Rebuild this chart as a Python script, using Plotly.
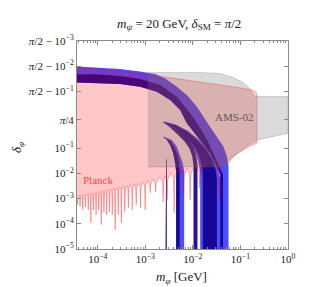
import numpy as np
import plotly.graph_objects as go

# ---------------- data (m_phi in GeV, delta_phi in rad) ----------------
# AMS-02 excluded region
ams_m = [1.13e-3, 1.424e-2, 3.756e-2, 7.05e-2, 0.1145, 0.1532, 0.1771, 0.2049, 1.0, 1.0,
         0.2258, 0.146, 0.099, 0.0672, 0.0502, 1.13e-3]
ams_delta = [1.5533, 1.5533, 1.5512, 1.5427, 1.5264, 1.4976, 1.4321, 1.3475, 1.3475, 0.4578,
             0.2958, 0.1750, 0.0768, 0.0406, 0.0179, 0.0179]

# Planck excluded region: upper/right edge
planck_edge_m = [3.5e-5, 1.815e-4, 1.145e-3, 5.40e-3, 2.313e-2, 7.77e-2, 0.1771, 0.2049, 0.2226,
                 0.2226, 0.146, 0.0899, 0.061, 0.0456]
planck_edge_delta = [1.5600, 1.5566, 1.5494, 1.5385, 1.5222, 1.5040, 1.4830, 1.4684, 1.4079,
                     0.2233, 0.1266, 0.0640, 0.0371, 0.0235]
# Planck lower edge: resonance dips
planck_dip_m = [3.720e-5, 4.241e-5, 4.833e-5, 5.509e-5, 6.310e-5, 7.156e-5, 8.118e-5, 9.209e-5,
                1.044e-4, 1.185e-4, 1.350e-4, 1.539e-4, 1.763e-4, 2.020e-4, 2.324e-4, 2.689e-4,
                3.139e-4, 3.702e-4, 4.408e-4, 5.300e-4, 6.433e-4, 7.922e-4, 9.904e-4, 1.262e-3,
                1.647e-3, 2.370e-3, 2.877e-3, 4.040e-3, 6.402e-3, 8.774e-3, 1.391e-2, 3.578e-2]
planck_dip_cusp = [1.115e-3, 1.167e-3, 1.222e-3, 1.279e-3, 1.338e-3, 1.400e-3, 1.466e-3, 1.534e-3,
                   1.605e-3, 1.680e-3, 1.759e-3, 1.840e-3, 1.926e-3, 2.015e-3, 2.109e-3, 2.207e-3,
                   2.310e-3, 2.417e-3, 2.530e-3, 2.648e-3, 2.771e-3, 3.035e-3, 3.325e-3, 3.642e-3,
                   4.174e-3, 4.78e-3, 5.48e-3, 6.58e-3, 7.89e-3, 9.47e-3, 1.136e-2, 1.363e-2]
planck_dip_bottom = [5.636e-4, 4.697e-4, 3.576e-4, 4.697e-4, 3.576e-4, 1.095e-4, 3.576e-4, 2.268e-4,
                     3.576e-4, 9.13e-5, 2.722e-4, 2.268e-4, 2.981e-4, 2.268e-4, 5.79e-5, 2.268e-4,
                     1.095e-4, 2.981e-4, 4.290e-4, 3.576e-4, 5.636e-4, 4.290e-4, 3.576e-4, 1.680e-3,
                     1.840e-3, 7.41e-4, 8.885e-4, 2.722e-4, 1.400e-3, 8.885e-4, 2.648e-3, 8.885e-4]
planck_arch_m = [3.970e-5, 4.527e-5, 5.160e-5, 5.894e-5, 6.721e-5, 7.622e-5, 8.646e-5, 9.808e-5,
                 1.112e-4, 1.265e-4, 1.442e-4, 1.647e-4, 1.887e-4, 2.167e-4, 2.500e-4, 2.906e-4,
                 3.408e-4, 4.040e-4, 4.833e-4, 5.838e-4, 7.140e-4, 8.857e-4, 1.118e-3, 1.442e-3,
                 1.976e-3, 2.611e-3, 3.408e-3, 5.085e-3, 7.493e-3, 1.105e-2, 2.231e-2]
planck_arch_delta = [1.302e-3, 1.363e-3, 1.426e-3, 1.506e-3, 1.576e-3, 1.650e-3, 1.727e-3, 1.807e-3,
                     1.891e-3, 1.979e-3, 2.090e-3, 2.207e-3, 2.331e-3, 2.462e-3, 2.600e-3, 2.771e-3,
                     2.954e-3, 3.177e-3, 3.417e-3, 3.675e-3, 3.989e-3, 4.49e-3, 5.10e-3, 5.90e-3,
                     7.01e-3, 8.04e-3, 9.91e-3, 1.302e-2, 1.562e-2, 1.874e-2, 2.577e-2]
planck_left_m = 3.5e-5
planck_left_delta = 1.085e-3

# relic-density bands
main_outer_m = [3.5e-5, 1.118e-4, 2.948e-4, 7.77e-4, 1.608e-3, 2.611e-3, 4.241e-3, 7.476e-3,
                1.214e-2, 1.971e-2, 3.201e-2, 4.408e-2, 5.197e-2, 5.617e-2, 5.617e-2]
main_outer_delta = [1.5605, 1.5595, 1.5578, 1.5545, 1.5503, 1.5400, 1.5125, 1.3838,
                    1.1009, 0.7310, 0.3756, 0.1339, 0.0457, 0.0184, 5e-6]
main_split_m = [3.5e-5, 1.118e-4, 2.948e-4, 7.77e-4, 2.049e-3, 4.606e-3, 8.774e-3, 1.424e-2,
                2.099e-2, 2.808e-2, 3.408e-2, 4.282e-2, 4.282e-2]
main_split_delta = [1.5503, 1.5494, 1.5462, 1.5385, 1.5151, 1.3427, 0.9413, 0.5860,
                    0.2475, 0.0534, 0.0215, 8.65e-3, 5e-6]
main_inner_m = [3.756e-2, 3.756e-2, 3.201e-2, 2.313e-2, 1.424e-2, 7.476e-3, 5.40e-3, 3.327e-3,
                1.746e-3, 7.77e-4, 2.948e-4, 1.118e-4, 3.5e-5]
main_inner_delta = [5e-6, 8.65e-3, 0.0184, 0.0623, 0.2958, 0.6996, 1.0211, 1.2629,
                    1.4635, 1.5058, 1.5200, 1.5244, 1.5264]

fingerA_blue_m = [2.405e-3, 4.451e-3, 7.963e-3, 1.357e-2, 2.099e-2, 2.808e-2, 3.408e-2, 3.756e-2, 3.756e-2,
                  1.424e-2, 1.424e-2, 1.357e-2, 1.202e-2, 9.904e-3, 7.586e-3, 5.40e-3, 3.666e-3, 2.405e-3]
fingerA_blue_delta = [0.7479, 0.6633, 0.5134, 0.2958, 0.0841, 0.0339, 0.01363, 5.48e-3, 5e-6,
                      5e-6, 8.65e-3, 0.0215, 0.0487, 0.1024, 0.2958, 0.4651, 0.6053, 0.7189]
fingerA1_m = [2.405e-3, 3.666e-3, 5.671e-3, 7.963e-3, 1.015e-2, 1.174e-2, 1.250e-2, 1.250e-2,
              1.030e-2, 1.030e-2, 9.667e-3, 8.357e-3, 6.559e-3, 4.672e-3, 3.327e-3, 2.405e-3]
fingerA1_delta = [0.7310, 0.6222, 0.4893, 0.3200, 0.1266, 0.0487, 0.0215, 5e-6,
                  5e-6, 0.0215, 0.0487, 0.1024, 0.2717, 0.4409, 0.5981, 0.7165]
fingerA2_m = [2.741e-3, 4.451e-3, 7.586e-3, 1.232e-2, 1.905e-2, 2.549e-2, 3.020e-2, 3.201e-2, 3.201e-2,
              1.624e-2, 1.624e-2, 1.532e-2, 1.357e-2, 1.118e-2, 8.357e-3, 5.952e-3, 4.040e-3, 2.741e-3]
fingerA2_delta = [0.7238, 0.6464, 0.5014, 0.2958, 0.0841, 0.0339, 0.01363, 5.48e-3, 5e-6,
                  5e-6, 8.65e-3, 0.0215, 0.0487, 0.1024, 0.2958, 0.4651, 0.5981, 0.7117]
fingerB_m = [2.405e-3, 3.613e-3, 4.606e-3, 5.40e-3, 6.100e-3, 6.559e-3, 6.559e-3,
             4.451e-3, 4.451e-3, 4.241e-3, 3.848e-3, 3.327e-3, 2.808e-3, 2.405e-3]
fingerB_delta = [0.3805, 0.2958, 0.1339, 0.0534, 0.02577, 0.01136, 5e-6,
                 5e-6, 0.01136, 0.02577, 0.0640, 0.1750, 0.3079, 0.3611]
fingerB_dark_m = [2.405e-3, 3.327e-3, 4.040e-3, 4.786e-3, 5.148e-3, 5.274e-3, 5.274e-3,
                  4.451e-3, 4.451e-3, 4.241e-3, 3.848e-3, 3.327e-3, 2.808e-3, 2.405e-3]
fingerB_dark_delta = [0.3732, 0.2717, 0.1145, 0.0534, 0.02577, 0.01136, 5e-6,
                      5e-6, 0.01136, 0.02577, 0.0640, 0.1750, 0.3079, 0.3611]
thin_m = [2.650e-3, 2.650e-3, 2.741e-3, 2.835e-3, 2.835e-3]
thin_delta = [5e-6, 0.0309, 0.0425, 0.0309, 5e-6]

# labels
planck_label = (1.0e-4, 5.5e-3)
ams_label = (7.66e-2, 0.859)

x_tick_vals = [1e-4, 1e-3, 1e-2, 1e-1, 1.0]
x_tick_text = ["10<sup>−4</sup>", "10<sup>−3</sup>", "10<sup>−2</sup>", "10<sup>−1</sup>", "10<sup>0</sup>"]
y_tick_delta = [1e-5, 1e-4, 1e-3, 1e-2, 1e-1, np.pi / 4, np.pi / 2 - 1e-1, np.pi / 2 - 1e-2, np.pi / 2 - 1e-3]
y_tick_text = ["10<sup>−5</sup>", "10<sup>−4</sup>", "10<sup>−3</sup>", "10<sup>−2</sup>", "10<sup>−1</sup>",
               "<i>π</i>/4", "<i>π</i>/2 − 10<sup>−1</sup>", "<i>π</i>/2 − 10<sup>−2</sup>",
               "<i>π</i>/2 − 10<sup>−3</sup>"]


# ---------------- custom delta scale ----------------
def dscale(d):
    d = np.asarray(d, dtype=float)
    lo = np.log10(np.clip(d, 1e-12, None)) + 5.0
    hi = 5.24 - np.log10(np.clip(np.pi / 2 - d, 1e-12, None))
    mid = 4.0 + (d - 0.1) / (np.pi / 2 - 0.2) * 2.24
    return np.where(d <= 0.1, lo, np.where(d >= np.pi / 2 - 0.1, hi, mid))


SERIF = "Liberation Serif, Times New Roman, serif"
AXC = "#8a8a8a"
BLUE = "rgba(0,0,255,0.70)"
DARK = "rgba(20,0,140,0.92)"
PINK = "rgba(255,0,0,0.22)"
GRAY = "rgba(120,120,120,0.27)"

fig = go.Figure()


def poly(m, d, fill, line_color=None, line_width=0):
    fig.add_trace(go.Scatter(
        x=list(m), y=dscale(d), mode="lines", fill="toself", fillcolor=fill,
        line=dict(color=line_color or fill, width=line_width),
        hoverinfo="skip", showlegend=False))


# bands
poly(main_outer_m + main_inner_m, main_outer_delta + main_inner_delta, BLUE)
poly(fingerA_blue_m, fingerA_blue_delta, BLUE)
poly(fingerB_m, fingerB_delta, BLUE)
poly(main_split_m + main_inner_m, main_split_delta + main_inner_delta, DARK)
poly(fingerA1_m, fingerA1_delta, DARK)
poly(fingerA2_m, fingerA2_delta, DARK)
poly(fingerB_dark_m, fingerB_dark_delta, DARK)
poly(thin_m, thin_delta, DARK)

# Planck polygon
spike_hw = 10 ** 0.012
pm = list(planck_edge_m)
pd = list(planck_edge_delta)
n = len(planck_dip_m)
for i in reversed(range(n)):
    pm += [planck_dip_m[i] * spike_hw, planck_dip_m[i], planck_dip_m[i] / spike_hw]
    pd += [planck_dip_cusp[i], planck_dip_bottom[i], planck_dip_cusp[i]]
    if i > 0:
        pm.append(planck_arch_m[i - 1])
        pd.append(planck_arch_delta[i - 1])
pm.append(planck_left_m)
pd.append(planck_left_delta)
poly(pm, pd, PINK, "rgba(255,0,0,0.30)", 1)

# AMS-02
poly(ams_m, ams_delta, GRAY, "rgba(110,110,110,0.35)", 0.8)

minor_vals = [k * 10.0 ** e for e in range(-5, 0) for k in range(2, 10)]

fig.update_xaxes(
    type="log", range=[-4.4365, 0], showline=True, linecolor=AXC, linewidth=1,
    mirror="allticks", ticks="inside", ticklen=4, tickcolor=AXC, tickwidth=1,
    tickmode="array", tickvals=x_tick_vals, ticktext=x_tick_text,
    showgrid=False, zeroline=False, automargin=False,
    minor=dict(ticks="inside", ticklen=2, tickcolor=AXC, tickwidth=1,
               tickmode="array", tickvals=minor_vals, showgrid=False),
    tickfont=dict(family=SERIF, size=11, color="#222"))
fig.update_yaxes(
    range=[0, 8.24], showline=True, linecolor=AXC, linewidth=1,
    mirror="allticks", ticks="inside", ticklen=4, tickcolor=AXC, tickwidth=1,
    tickmode="array", tickvals=dscale(y_tick_delta), ticktext=y_tick_text,
    showgrid=False, zeroline=False, automargin=False,
    tickfont=dict(family=SERIF, size=11, color="#222"))

fig.add_annotation(x=np.log10(planck_label[0]), y=float(dscale(planck_label[1])), text="Planck",
                   xanchor="center", yanchor="middle",
                   showarrow=False, font=dict(family=SERIF, size=11, color="#f24646"))
fig.add_annotation(x=np.log10(ams_label[0]), y=float(dscale(ams_label[1])), text="AMS-02",
                   xanchor="center", yanchor="middle",
                   showarrow=False, font=dict(family=SERIF, size=11, color="#5a5a5a"))
fig.add_annotation(xref="paper", yref="paper", x=0.493, y=-0.135, text="<i>m<sub>φ</sub></i> [GeV]",
                   xanchor="center", yanchor="middle",
                   showarrow=False, font=dict(family=SERIF, size=13, color="#222"))
fig.add_annotation(xref="paper", yref="paper", x=-0.285, y=0.49, text="<i>δ<sub>φ</sub></i>",
                   xanchor="center", yanchor="middle",
                   textangle=-90, showarrow=False, font=dict(family=SERIF, size=13, color="#222"))

# the page body adds an 8 px offset, so the figure is sized to end at the window edge
fig.update_layout(
    template="none",
    width=303, height=279, autosize=False,
    margin=dict(l=69, r=23, t=33, b=37.7, pad=0),
    paper_bgcolor="white", plot_bgcolor="white",
    title=dict(text="<i>m<sub>ψ</sub></i> = 20 GeV, <i>δ</i><sub>SM</sub> = <i>π</i>/2",
               x=0.565, xanchor="center", y=0.946, yanchor="middle", yref="container",
               font=dict(family=SERIF, size=13, color="#222")),
)

fig.write_html("out.html")
